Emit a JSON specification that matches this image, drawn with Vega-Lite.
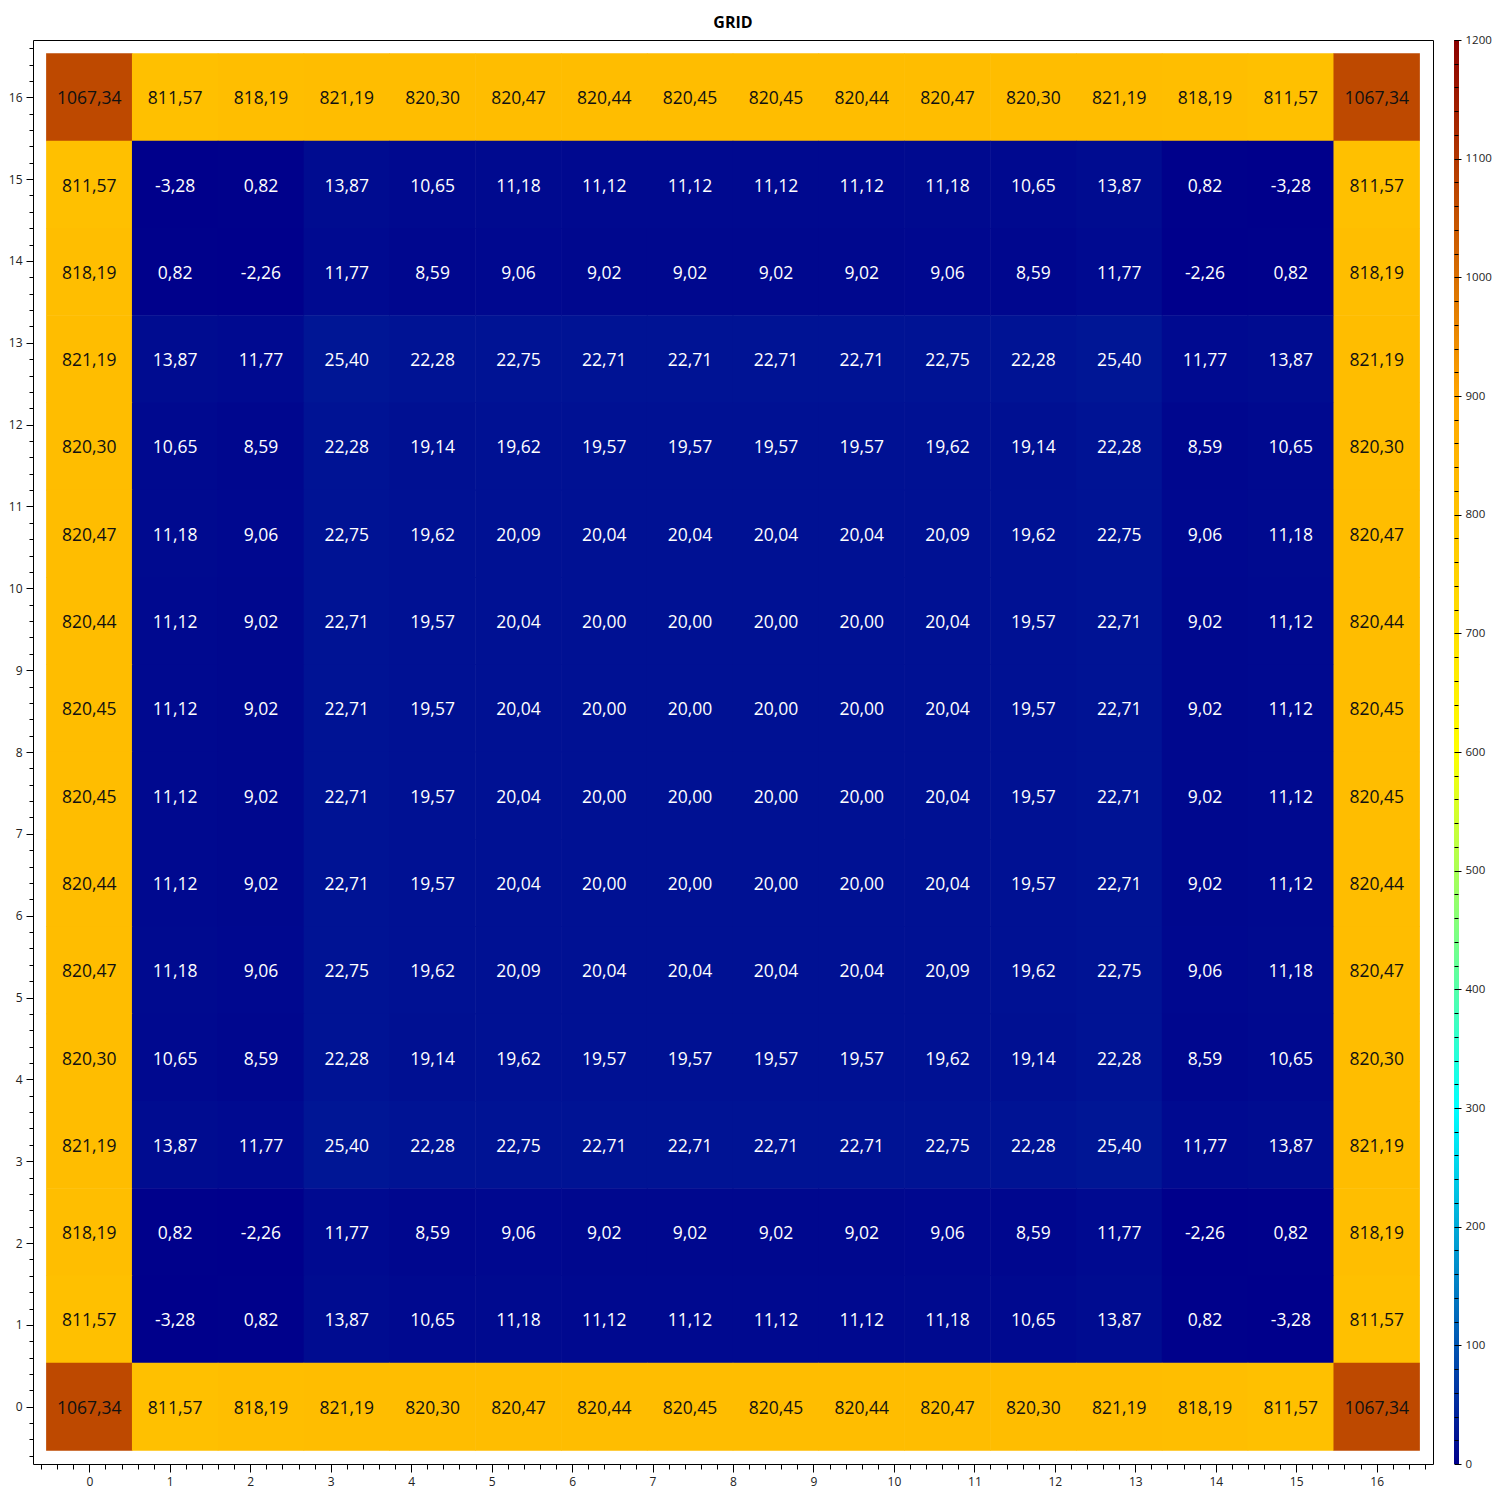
{
  "$schema": "https://vega.github.io/schema/vega-lite/v6.json",
  "autosize": {"type": "none"},
  "padding": {"left": 33, "top": 40, "right": 67, "bottom": 36},
  "width": 1400,
  "height": 1424,
  "background": "white",
  "title": {"text": "GRID", "font": "Open Sans", "fontSize": 16, "fontWeight": "bold", "color": "black", "anchor": "middle", "baseline": "alphabetic", "offset": 12, "frame": "group", "dy": 22},
  "config": {
    "view": {"stroke": "black", "strokeWidth": 1},
    "locale": {"number": {"decimal": ",", "thousands": ".", "grouping": [3], "currency": ["", ""], "minus": "-"}},
    "legend": {"gradientVerticalMaxLength": 1500, "gradientVerticalMinLength": 10},
    "axis": {"labelFont": "Open Sans", "labelFontSize": 12, "labelColor": "#222", "tickColor": "black", "domain": false, "grid": false, "labelOverlap": false, "labelBound": false, "labelFlush": false, "tickCount": 1000}
  },
  "data": {"values": [
{"x":0,"y":16,"v":1067.34},{"x":1.0667,"y":16,"v":811.57},{"x":2.1333,"y":16,"v":818.19},{"x":3.2,"y":16,"v":821.19},{"x":4.2667,"y":16,"v":820.30},{"x":5.3333,"y":16,"v":820.47},{"x":6.4,"y":16,"v":820.44},{"x":7.4667,"y":16,"v":820.45},{"x":8.5333,"y":16,"v":820.45},{"x":9.6,"y":16,"v":820.44},{"x":10.6667,"y":16,"v":820.47},{"x":11.7333,"y":16,"v":820.30},{"x":12.8,"y":16,"v":821.19},{"x":13.8667,"y":16,"v":818.19},{"x":14.9333,"y":16,"v":811.57},{"x":16,"y":16,"v":1067.34},
{"x":0,"y":14.9333,"v":811.57},{"x":1.0667,"y":14.9333,"v":-3.28},{"x":2.1333,"y":14.9333,"v":0.82},{"x":3.2,"y":14.9333,"v":13.87},{"x":4.2667,"y":14.9333,"v":10.65},{"x":5.3333,"y":14.9333,"v":11.18},{"x":6.4,"y":14.9333,"v":11.12},{"x":7.4667,"y":14.9333,"v":11.12},{"x":8.5333,"y":14.9333,"v":11.12},{"x":9.6,"y":14.9333,"v":11.12},{"x":10.6667,"y":14.9333,"v":11.18},{"x":11.7333,"y":14.9333,"v":10.65},{"x":12.8,"y":14.9333,"v":13.87},{"x":13.8667,"y":14.9333,"v":0.82},{"x":14.9333,"y":14.9333,"v":-3.28},{"x":16,"y":14.9333,"v":811.57},
{"x":0,"y":13.8667,"v":818.19},{"x":1.0667,"y":13.8667,"v":0.82},{"x":2.1333,"y":13.8667,"v":-2.26},{"x":3.2,"y":13.8667,"v":11.77},{"x":4.2667,"y":13.8667,"v":8.59},{"x":5.3333,"y":13.8667,"v":9.06},{"x":6.4,"y":13.8667,"v":9.02},{"x":7.4667,"y":13.8667,"v":9.02},{"x":8.5333,"y":13.8667,"v":9.02},{"x":9.6,"y":13.8667,"v":9.02},{"x":10.6667,"y":13.8667,"v":9.06},{"x":11.7333,"y":13.8667,"v":8.59},{"x":12.8,"y":13.8667,"v":11.77},{"x":13.8667,"y":13.8667,"v":-2.26},{"x":14.9333,"y":13.8667,"v":0.82},{"x":16,"y":13.8667,"v":818.19},
{"x":0,"y":12.8,"v":821.19},{"x":1.0667,"y":12.8,"v":13.87},{"x":2.1333,"y":12.8,"v":11.77},{"x":3.2,"y":12.8,"v":25.40},{"x":4.2667,"y":12.8,"v":22.28},{"x":5.3333,"y":12.8,"v":22.75},{"x":6.4,"y":12.8,"v":22.71},{"x":7.4667,"y":12.8,"v":22.71},{"x":8.5333,"y":12.8,"v":22.71},{"x":9.6,"y":12.8,"v":22.71},{"x":10.6667,"y":12.8,"v":22.75},{"x":11.7333,"y":12.8,"v":22.28},{"x":12.8,"y":12.8,"v":25.40},{"x":13.8667,"y":12.8,"v":11.77},{"x":14.9333,"y":12.8,"v":13.87},{"x":16,"y":12.8,"v":821.19},
{"x":0,"y":11.7333,"v":820.30},{"x":1.0667,"y":11.7333,"v":10.65},{"x":2.1333,"y":11.7333,"v":8.59},{"x":3.2,"y":11.7333,"v":22.28},{"x":4.2667,"y":11.7333,"v":19.14},{"x":5.3333,"y":11.7333,"v":19.62},{"x":6.4,"y":11.7333,"v":19.57},{"x":7.4667,"y":11.7333,"v":19.57},{"x":8.5333,"y":11.7333,"v":19.57},{"x":9.6,"y":11.7333,"v":19.57},{"x":10.6667,"y":11.7333,"v":19.62},{"x":11.7333,"y":11.7333,"v":19.14},{"x":12.8,"y":11.7333,"v":22.28},{"x":13.8667,"y":11.7333,"v":8.59},{"x":14.9333,"y":11.7333,"v":10.65},{"x":16,"y":11.7333,"v":820.30},
{"x":0,"y":10.6667,"v":820.47},{"x":1.0667,"y":10.6667,"v":11.18},{"x":2.1333,"y":10.6667,"v":9.06},{"x":3.2,"y":10.6667,"v":22.75},{"x":4.2667,"y":10.6667,"v":19.62},{"x":5.3333,"y":10.6667,"v":20.09},{"x":6.4,"y":10.6667,"v":20.04},{"x":7.4667,"y":10.6667,"v":20.04},{"x":8.5333,"y":10.6667,"v":20.04},{"x":9.6,"y":10.6667,"v":20.04},{"x":10.6667,"y":10.6667,"v":20.09},{"x":11.7333,"y":10.6667,"v":19.62},{"x":12.8,"y":10.6667,"v":22.75},{"x":13.8667,"y":10.6667,"v":9.06},{"x":14.9333,"y":10.6667,"v":11.18},{"x":16,"y":10.6667,"v":820.47},
{"x":0,"y":9.6,"v":820.44},{"x":1.0667,"y":9.6,"v":11.12},{"x":2.1333,"y":9.6,"v":9.02},{"x":3.2,"y":9.6,"v":22.71},{"x":4.2667,"y":9.6,"v":19.57},{"x":5.3333,"y":9.6,"v":20.04},{"x":6.4,"y":9.6,"v":20.00},{"x":7.4667,"y":9.6,"v":20.00},{"x":8.5333,"y":9.6,"v":20.00},{"x":9.6,"y":9.6,"v":20.00},{"x":10.6667,"y":9.6,"v":20.04},{"x":11.7333,"y":9.6,"v":19.57},{"x":12.8,"y":9.6,"v":22.71},{"x":13.8667,"y":9.6,"v":9.02},{"x":14.9333,"y":9.6,"v":11.12},{"x":16,"y":9.6,"v":820.44},
{"x":0,"y":8.5333,"v":820.45},{"x":1.0667,"y":8.5333,"v":11.12},{"x":2.1333,"y":8.5333,"v":9.02},{"x":3.2,"y":8.5333,"v":22.71},{"x":4.2667,"y":8.5333,"v":19.57},{"x":5.3333,"y":8.5333,"v":20.04},{"x":6.4,"y":8.5333,"v":20.00},{"x":7.4667,"y":8.5333,"v":20.00},{"x":8.5333,"y":8.5333,"v":20.00},{"x":9.6,"y":8.5333,"v":20.00},{"x":10.6667,"y":8.5333,"v":20.04},{"x":11.7333,"y":8.5333,"v":19.57},{"x":12.8,"y":8.5333,"v":22.71},{"x":13.8667,"y":8.5333,"v":9.02},{"x":14.9333,"y":8.5333,"v":11.12},{"x":16,"y":8.5333,"v":820.45},
{"x":0,"y":7.4667,"v":820.45},{"x":1.0667,"y":7.4667,"v":11.12},{"x":2.1333,"y":7.4667,"v":9.02},{"x":3.2,"y":7.4667,"v":22.71},{"x":4.2667,"y":7.4667,"v":19.57},{"x":5.3333,"y":7.4667,"v":20.04},{"x":6.4,"y":7.4667,"v":20.00},{"x":7.4667,"y":7.4667,"v":20.00},{"x":8.5333,"y":7.4667,"v":20.00},{"x":9.6,"y":7.4667,"v":20.00},{"x":10.6667,"y":7.4667,"v":20.04},{"x":11.7333,"y":7.4667,"v":19.57},{"x":12.8,"y":7.4667,"v":22.71},{"x":13.8667,"y":7.4667,"v":9.02},{"x":14.9333,"y":7.4667,"v":11.12},{"x":16,"y":7.4667,"v":820.45},
{"x":0,"y":6.4,"v":820.44},{"x":1.0667,"y":6.4,"v":11.12},{"x":2.1333,"y":6.4,"v":9.02},{"x":3.2,"y":6.4,"v":22.71},{"x":4.2667,"y":6.4,"v":19.57},{"x":5.3333,"y":6.4,"v":20.04},{"x":6.4,"y":6.4,"v":20.00},{"x":7.4667,"y":6.4,"v":20.00},{"x":8.5333,"y":6.4,"v":20.00},{"x":9.6,"y":6.4,"v":20.00},{"x":10.6667,"y":6.4,"v":20.04},{"x":11.7333,"y":6.4,"v":19.57},{"x":12.8,"y":6.4,"v":22.71},{"x":13.8667,"y":6.4,"v":9.02},{"x":14.9333,"y":6.4,"v":11.12},{"x":16,"y":6.4,"v":820.44},
{"x":0,"y":5.3333,"v":820.47},{"x":1.0667,"y":5.3333,"v":11.18},{"x":2.1333,"y":5.3333,"v":9.06},{"x":3.2,"y":5.3333,"v":22.75},{"x":4.2667,"y":5.3333,"v":19.62},{"x":5.3333,"y":5.3333,"v":20.09},{"x":6.4,"y":5.3333,"v":20.04},{"x":7.4667,"y":5.3333,"v":20.04},{"x":8.5333,"y":5.3333,"v":20.04},{"x":9.6,"y":5.3333,"v":20.04},{"x":10.6667,"y":5.3333,"v":20.09},{"x":11.7333,"y":5.3333,"v":19.62},{"x":12.8,"y":5.3333,"v":22.75},{"x":13.8667,"y":5.3333,"v":9.06},{"x":14.9333,"y":5.3333,"v":11.18},{"x":16,"y":5.3333,"v":820.47},
{"x":0,"y":4.2667,"v":820.30},{"x":1.0667,"y":4.2667,"v":10.65},{"x":2.1333,"y":4.2667,"v":8.59},{"x":3.2,"y":4.2667,"v":22.28},{"x":4.2667,"y":4.2667,"v":19.14},{"x":5.3333,"y":4.2667,"v":19.62},{"x":6.4,"y":4.2667,"v":19.57},{"x":7.4667,"y":4.2667,"v":19.57},{"x":8.5333,"y":4.2667,"v":19.57},{"x":9.6,"y":4.2667,"v":19.57},{"x":10.6667,"y":4.2667,"v":19.62},{"x":11.7333,"y":4.2667,"v":19.14},{"x":12.8,"y":4.2667,"v":22.28},{"x":13.8667,"y":4.2667,"v":8.59},{"x":14.9333,"y":4.2667,"v":10.65},{"x":16,"y":4.2667,"v":820.30},
{"x":0,"y":3.2,"v":821.19},{"x":1.0667,"y":3.2,"v":13.87},{"x":2.1333,"y":3.2,"v":11.77},{"x":3.2,"y":3.2,"v":25.40},{"x":4.2667,"y":3.2,"v":22.28},{"x":5.3333,"y":3.2,"v":22.75},{"x":6.4,"y":3.2,"v":22.71},{"x":7.4667,"y":3.2,"v":22.71},{"x":8.5333,"y":3.2,"v":22.71},{"x":9.6,"y":3.2,"v":22.71},{"x":10.6667,"y":3.2,"v":22.75},{"x":11.7333,"y":3.2,"v":22.28},{"x":12.8,"y":3.2,"v":25.40},{"x":13.8667,"y":3.2,"v":11.77},{"x":14.9333,"y":3.2,"v":13.87},{"x":16,"y":3.2,"v":821.19},
{"x":0,"y":2.1333,"v":818.19},{"x":1.0667,"y":2.1333,"v":0.82},{"x":2.1333,"y":2.1333,"v":-2.26},{"x":3.2,"y":2.1333,"v":11.77},{"x":4.2667,"y":2.1333,"v":8.59},{"x":5.3333,"y":2.1333,"v":9.06},{"x":6.4,"y":2.1333,"v":9.02},{"x":7.4667,"y":2.1333,"v":9.02},{"x":8.5333,"y":2.1333,"v":9.02},{"x":9.6,"y":2.1333,"v":9.02},{"x":10.6667,"y":2.1333,"v":9.06},{"x":11.7333,"y":2.1333,"v":8.59},{"x":12.8,"y":2.1333,"v":11.77},{"x":13.8667,"y":2.1333,"v":-2.26},{"x":14.9333,"y":2.1333,"v":0.82},{"x":16,"y":2.1333,"v":818.19},
{"x":0,"y":1.0667,"v":811.57},{"x":1.0667,"y":1.0667,"v":-3.28},{"x":2.1333,"y":1.0667,"v":0.82},{"x":3.2,"y":1.0667,"v":13.87},{"x":4.2667,"y":1.0667,"v":10.65},{"x":5.3333,"y":1.0667,"v":11.18},{"x":6.4,"y":1.0667,"v":11.12},{"x":7.4667,"y":1.0667,"v":11.12},{"x":8.5333,"y":1.0667,"v":11.12},{"x":9.6,"y":1.0667,"v":11.12},{"x":10.6667,"y":1.0667,"v":11.18},{"x":11.7333,"y":1.0667,"v":10.65},{"x":12.8,"y":1.0667,"v":13.87},{"x":13.8667,"y":1.0667,"v":0.82},{"x":14.9333,"y":1.0667,"v":-3.28},{"x":16,"y":1.0667,"v":811.57},
{"x":0,"y":0,"v":1067.34},{"x":1.0667,"y":0,"v":811.57},{"x":2.1333,"y":0,"v":818.19},{"x":3.2,"y":0,"v":821.19},{"x":4.2667,"y":0,"v":820.30},{"x":5.3333,"y":0,"v":820.47},{"x":6.4,"y":0,"v":820.44},{"x":7.4667,"y":0,"v":820.45},{"x":8.5333,"y":0,"v":820.45},{"x":9.6,"y":0,"v":820.44},{"x":10.6667,"y":0,"v":820.47},{"x":11.7333,"y":0,"v":820.30},{"x":12.8,"y":0,"v":821.19},{"x":13.8667,"y":0,"v":818.19},{"x":14.9333,"y":0,"v":811.57},{"x":16,"y":0,"v":1067.34}
  ]},
  "resolve": {"scale": {"y": "independent"}},
  "layer": [
    {
      "layer": [
        {
          "mark": {"type": "rect", "xOffset": -43.2, "x2Offset": 43.2, "yOffset": -43.95, "y2Offset": 43.95},
          "encoding": {
            "x": {"field": "x", "type": "quantitative", "scale": {"domain": [-0.7, 16.7], "nice": false, "zero": false},
              "axis": {"orient": "bottom", "title": null, "tickCount": 1000, "labelFontSize": 12, "labelColor": "#222", "values": [-0.6,-0.4,-0.2,0,0.2,0.4,0.6,0.8,1,1.2,1.4,1.6,1.8,2,2.2,2.4,2.6,2.8,3,3.2,3.4,3.6,3.8,4,4.2,4.4,4.6,4.8,5,5.2,5.4,5.6,5.8,6,6.2,6.4,6.6,6.8,7,7.2,7.4,7.6,7.8,8,8.2,8.4,8.6,8.8,9,9.2,9.4,9.6,9.8,10,10.2,10.4,10.6,10.8,11,11.2,11.4,11.6,11.8,12,12.2,12.4,12.6,12.8,13,13.2,13.4,13.6,13.8,14,14.2,14.4,14.6,14.8,15,15.2,15.4,15.6,15.8,16,16.2,16.4,16.6],
                "labelExpr": "abs(datum.value - round(datum.value)) < 0.001 ? '' + round(datum.value) : ''",
                "tickSize": {"condition": {"test": "abs(datum.value - round(datum.value)) < 0.001", "value": 8}, "value": 5},
                "labelPadding": 4, "labelOverlap": false, "labelFlush": false}},
            "x2": {"field": "x"},
            "y": {"field": "y", "type": "quantitative", "scale": {"domain": [-0.7, 16.7], "nice": false, "zero": false},
              "axis": {"orient": "left", "title": null, "tickCount": 1000, "labelFontSize": 12, "labelColor": "#222", "values": [-0.6,-0.4,-0.2,0,0.2,0.4,0.6,0.8,1,1.2,1.4,1.6,1.8,2,2.2,2.4,2.6,2.8,3,3.2,3.4,3.6,3.8,4,4.2,4.4,4.6,4.8,5,5.2,5.4,5.6,5.8,6,6.2,6.4,6.6,6.8,7,7.2,7.4,7.6,7.8,8,8.2,8.4,8.6,8.8,9,9.2,9.4,9.6,9.8,10,10.2,10.4,10.6,10.8,11,11.2,11.4,11.6,11.8,12,12.2,12.4,12.6,12.8,13,13.2,13.4,13.6,13.8,14,14.2,14.4,14.6,14.8,15,15.2,15.4,15.6,15.8,16,16.2,16.4,16.6],
                "labelExpr": "abs(datum.value - round(datum.value)) < 0.001 ? '' + round(datum.value) : ''",
                "tickSize": {"condition": {"test": "abs(datum.value - round(datum.value)) < 0.001", "value": 7}, "value": 4},
                "labelPadding": 4, "labelOverlap": false, "labelFlush": false}},
            "y2": {"field": "y"},
            "color": {"field": "v", "type": "quantitative",
              "scale": {"domain": [0, 300, 600, 900, 1200], "range": ["#00008B", "#00FFFF", "#FFFF00", "#FFA500", "#8B0000"], "interpolate": "rgb", "clamp": true},
              "legend": {"type": "gradient", "orient": "none", "legendX": 1421, "legendY": 0, "direction": "vertical", "gradientLength": 1424, "gradientThickness": 5, "title": null, "labelExpr": "''", "labelOpacity": 0, "padding": 0, "gradientStrokeWidth": 0}}
          }
        },
        {
          "mark": {"type": "text", "font": "Open Sans", "fontSize": 17.5, "baseline": "middle", "align": "center", "dy": 2},
          "encoding": {
            "x": {"field": "x", "type": "quantitative"},
            "y": {"field": "y", "type": "quantitative"},
            "text": {"field": "v", "type": "quantitative", "format": ".2f"},
            "color": {"condition": {"test": "datum.v > 500", "value": "#111111"}, "value": "white"}
          }
        }
      ]
    },
    {
      "mark": {"type": "point", "opacity": 0, "size": 0},
      "encoding": {
        "y": {"field": "v", "type": "quantitative", "scale": {"domain": [0, 1200], "nice": false, "zero": false},
          "axis": {"orient": "right", "title": null, "offset": 21, "zindex": 2, "tickCount": 1000, "labelFontSize": 11.5, "labelColor": "#222", "values": [0,20,40,60,80,100,120,140,160,180,200,220,240,260,280,300,320,340,360,380,400,420,440,460,480,500,520,540,560,580,600,620,640,660,680,700,720,740,760,780,800,820,840,860,880,900,920,940,960,980,1000,1020,1040,1060,1080,1100,1120,1140,1160,1180,1200],
            "labelExpr": "datum.value % 100 === 0 ? '' + datum.value : ''",
            "tickSize": {"condition": {"test": "datum.value % 100 === 0", "value": 7}, "value": 4},
            "labelPadding": 4, "labelOverlap": false, "labelFlush": false}}
      }
    }
  ]
}
